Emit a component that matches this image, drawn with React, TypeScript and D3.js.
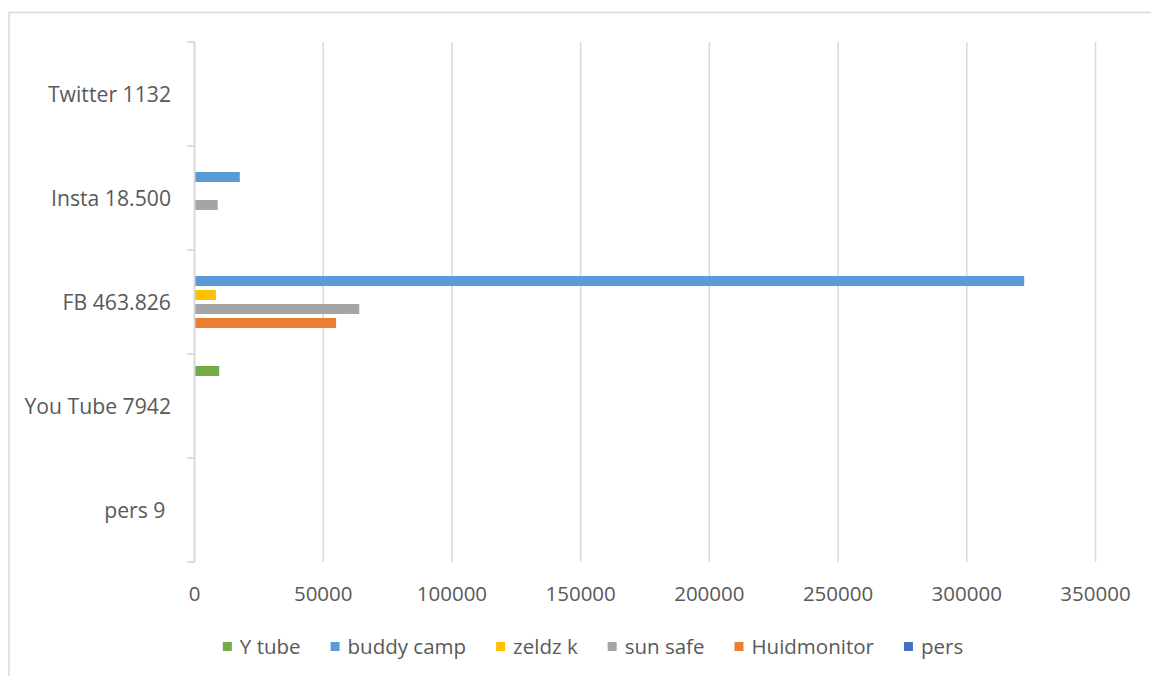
import React, { useEffect, useRef } from 'react';
import * as d3 from 'd3';

const categories = ['Twitter 1132', 'Insta 18.500', 'FB 463.826', 'You Tube 7942', 'pers 9 '];
const seriesNames = ['Y tube', 'buddy camp', 'zeldz k', 'sun safe', 'Huidmonitor', 'pers'];
const seriesColors = ['#70AD47', '#5B9BD5', '#FFC000', '#A5A5A5', '#ED7D31', '#4472C4'];

// values per category, same order as categories
const yTube = [0, 0, 0, 9600, 0];
const buddyCamp = [0, 17600, 322300, 0, 0];
const zeldzK = [0, 0, 8300, 0, 0];
const sunSafe = [0, 9000, 64000, 0, 0];
const huidmonitor = [0, 0, 55000, 0, 0];
const pers = [0, 0, 0, 0, 0];

const xTicks = [0, 50000, 100000, 150000, 200000, 250000, 300000, 350000];

const App: React.FC = () => {
  const svgRef = useRef<SVGSVGElement>(null);

  useEffect(() => {
    if (!svgRef.current) return;
    const width = 1151;
    const height = 676;
    const font = '"Open Sans", "Noto Sans", sans-serif';
    const textColor = '#595959';
    const gridColor = '#d9d9d9';
    const fontSize = 20.5;

    const svg = d3.select(svgRef.current);
    svg.selectAll('*').remove();

    // chart border
    svg.append('rect')
      .attr('x', 9).attr('y', 12.5)
      .attr('width', width + 20).attr('height', height + 20)
      .attr('fill', 'none')
      .attr('stroke', gridColor)
      .attr('stroke-width', 1.5);

    const plot = { left: 194.5, right: 1095.5, top: 42, bottom: 562 };

    const x = d3.scaleLinear().domain([0, 350000]).range([plot.left, plot.right]);
    const y = d3.scaleBand<string>().domain(categories).range([plot.top, plot.bottom]);
    const inner = d3.scaleBand<string>()
      .domain(seriesNames)
      .range([-42, 42])
      .paddingInner(0.2857)
      .paddingOuter(0.1429);

    const allSeries = [yTube, buddyCamp, zeldzK, sunSafe, huidmonitor, pers];

    // gridlines
    svg.append('g')
      .selectAll('line')
      .data(xTicks.slice(1))
      .enter().append('line')
      .attr('x1', d => x(d)).attr('x2', d => x(d))
      .attr('y1', plot.top).attr('y2', plot.bottom)
      .attr('stroke', gridColor)
      .attr('stroke-width', 1.5);

    // bars
    seriesNames.forEach((name, si) => {
      svg.append('g')
        .selectAll('rect')
        .data(allSeries[si].map((v, ci) => ({ v, c: categories[ci] })))
        .enter().append('rect')
        .attr('x', x(0))
        .attr('y', d => (y(d.c) as number) + y.bandwidth() / 2 + (inner(name) as number))
        .attr('width', d => x(d.v) - x(0))
        .attr('height', inner.bandwidth())
        .attr('fill', seriesColors[si]);
    });

    // category axis line and ticks
    const axis = svg.append('g');
    axis.append('line')
      .attr('x1', plot.left).attr('x2', plot.left)
      .attr('y1', plot.top).attr('y2', plot.bottom)
      .attr('stroke', gridColor)
      .attr('stroke-width', 2);
    const bounds = categories.map(c => y(c) as number).concat([plot.bottom]);
    axis.selectAll('.tick')
      .data(bounds)
      .enter().append('line')
      .attr('x1', plot.left - 7).attr('x2', plot.left)
      .attr('y1', d => d).attr('y2', d => d)
      .attr('stroke', gridColor)
      .attr('stroke-width', 2);

    // category labels
    svg.append('g')
      .selectAll('text')
      .data(categories)
      .enter().append('text')
      .attr('x', 171)
      .attr('y', d => (y(d) as number) + y.bandwidth() / 2)
      .attr('dy', '0.36em')
      .attr('text-anchor', 'end')
      .style('white-space', 'pre')
      .attr('font-family', font)
      .attr('font-size', 21.2)
      .attr('fill', textColor)
      .text(d => d);

    // value labels
    svg.append('g')
      .selectAll('text')
      .data(xTicks)
      .enter().append('text')
      .attr('x', d => x(d))
      .attr('y', 600.5)
      .attr('text-anchor', 'middle')
      .attr('font-family', font)
      .attr('font-size', fontSize)
      .attr('fill', textColor)
      .text(d => String(d));

    // legend
    const legend = svg.append('g');
    const items = seriesNames.map((name, i) => {
      const g = legend.append('g');
      g.append('rect')
        .attr('width', 9).attr('height', 9)
        .attr('y', -4.5)
        .attr('fill', seriesColors[i]);
      const t = g.append('text')
        .attr('x', 17)
        .attr('dy', '0.36em')
        .attr('font-family', font)
        .attr('font-size', fontSize)
        .attr('fill', textColor)
        .text(name);
      const w = (t.node() as SVGTextElement).getComputedTextLength();
      return { g, w: 17 + w };
    });
    const gap = 30;
    const total = d3.sum(items, d => d.w) + gap * (items.length - 1);
    let cx = 593 - total / 2;
    items.forEach(it => {
      it.g.attr('transform', `translate(${cx},646.5)`);
      cx += it.w + gap;
    });
  }, []);

  return (
    <svg
      ref={svgRef}
      width={1151}
      height={676}
      style={{ position: 'absolute', left: 0, top: 0, background: '#fff' }}
    />
  );
};

export default App;
